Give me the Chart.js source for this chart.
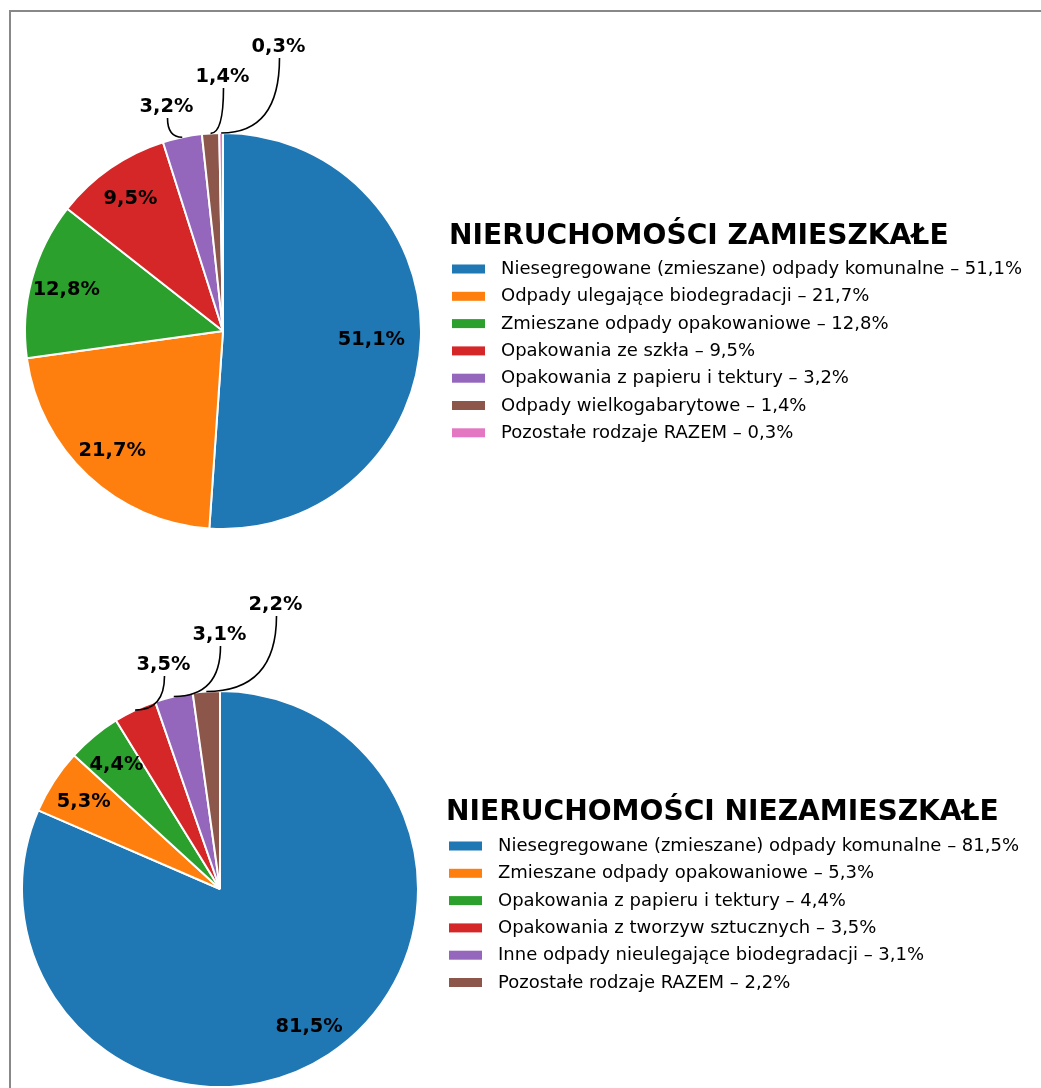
<!DOCTYPE html>
<html><head><meta charset="utf-8">
<script src="https://cdn.jsdelivr.net/npm/chart.js@4.4.1/dist/chart.umd.min.js"></script>
<style>
html,body{margin:0;padding:0;background:#fff;width:1041px;height:1088px;overflow:hidden}
#frame{position:absolute;left:9px;top:10px;width:1100px;height:1200px;border-left:2px solid #888;border-top:2px solid #888;}
canvas{position:absolute;left:0;top:0}
</style></head><body>
<div id="frame"></div>
<canvas id="c1" width="1041" height="1088"></canvas>
<canvas id="c2" width="1041" height="1088"></canvas>
<script>
// ---- data ----
const title1 = 'NIERUCHOMOŚCI ZAMIESZKAŁE';
const categories1 = [
  'Niesegregowane (zmieszane) odpady komunalne',
  'Odpady ulegające biodegradacji',
  'Zmieszane odpady opakowaniowe',
  'Opakowania ze szkła',
  'Opakowania z papieru i tektury',
  'Odpady wielkogabarytowe',
  'Pozostałe rodzaje RAZEM'
];
const values1 = [51.1, 21.7, 12.8, 9.5, 3.2, 1.4, 0.3];

const title2 = 'NIERUCHOMOŚCI NIEZAMIESZKAŁE';
const categories2 = [
  'Niesegregowane (zmieszane) odpady komunalne',
  'Zmieszane odpady opakowaniowe',
  'Opakowania z papieru i tektury',
  'Opakowania z tworzyw sztucznych',
  'Inne odpady nieulegające biodegradacji',
  'Pozostałe rodzaje RAZEM'
];
const values2 = [81.5, 5.3, 4.4, 3.5, 3.1, 2.2];

const palette = ['#1f77b4','#ff7f0e','#2ca02c','#d62728','#9467bd','#8c564b','#e377c2'];

// ---- helpers ----
const FONT = '"DejaVu Sans", "Liberation Sans", sans-serif';
function fmt(v){ return v.toFixed(1).replace('.', ','); }

const piePlugin = {
  id: 'pieDecor',
  afterDatasetsDraw(chart, args, o) {
    const ctx = chart.ctx;
    const meta = chart.getDatasetMeta(0);
    const vals = chart.data.datasets[0].data;
    const labels = chart.data.labels;
    const colors = chart.data.datasets[0].backgroundColor;
    ctx.save();
    // slice labels
    let k = 0;
    const fs = 19.4;
    ctx.font = 'bold ' + fs + 'px ' + FONT;
    ctx.fillStyle = '#000';
    ctx.textAlign = 'center';
    ctx.textBaseline = 'alphabetic';
    meta.data.forEach((arc, i) => {
      const p = arc.getProps(['x','y','startAngle','endAngle','outerRadius'], true);
      const R = p.outerRadius;
      const mid = (p.startAngle + p.endAngle) / 2;
      const v = vals[i];
      const txt = fmt(v) + '%';
      if (v >= o.threshold) {
        const d = (o.innerDist[i] !== undefined ? o.innerDist[i] : 0.82) * R;
        const cx = p.x + Math.cos(mid) * d, cy = p.y + Math.sin(mid) * d;
        ctx.fillText(txt, cx, cy + 0.32 * fs + (o.innerDy[i] || 0));
      } else {
        const ex = p.x + Math.cos(mid) * R, ey = p.y + Math.sin(mid) * R;
        const lx = p.x - 56.5 + k * 56, ly = p.y - 225.5 - k * 30;
        ctx.fillText(txt, lx, ly + 0.34 * fs);
        const sx = lx + 1, sy = ly + 12.5;
        ctx.beginPath();
        ctx.moveTo(sx, sy);
        ctx.quadraticCurveTo(sx, ey, ex, ey);
        ctx.lineWidth = 1.6;
        ctx.strokeStyle = '#000';
        ctx.stroke();
        k++;
      }
    });
    // legend
    const L = o.legend;
    ctx.textAlign = 'left';
    ctx.font = 'bold 28.1px ' + FONT;
    ctx.fillText(L.title, L.x, L.titleBaseline);
    ctx.font = '18px ' + FONT;
    labels.forEach((lab, i) => {
      const cy = L.firstRow + i * 27.3;
      ctx.fillStyle = colors[i];
      ctx.fillRect(L.x + 3, cy - 4.5, 33, 9);
      ctx.fillStyle = '#000';
      ctx.fillText(lab + ' – ' + fmt(vals[i]) + '%', L.x + 52, cy + 5);
    });
    ctx.restore();
  }
};

function makePie(id, cats, vals, title, pad, legendPos, innerDist, innerDy) {
  return new Chart(document.getElementById(id), {
    type: 'pie',
    data: {
      labels: cats,
      datasets: [{
        data: vals,
        backgroundColor: palette.slice(0, vals.length),
        borderColor: '#ffffff',
        borderWidth: 2
      }]
    },
    options: {
      responsive: false,
      animation: false,
      events: [],
      radius: 198,
      layout: { padding: pad },
      plugins: {
        legend: { display: false },
        tooltip: { enabled: false },
        pieDecor: {
          threshold: 4,
          innerDist: innerDist,
          innerDy: innerDy,
          legend: Object.assign({ title: title }, legendPos)
        }
      }
    },
    plugins: [piePlugin]
  });
}

makePie('c1', categories1, values1, title1,
  { left: 0, right: 595, top: 0, bottom: 426 },
  { x: 449, titleBaseline: 243.5, firstRow: 269 },
  [0.75], [3]);
makePie('c2', categories2, values2, title2,
  { left: 0, right: 601, top: 690, bottom: 0 },
  { x: 446, titleBaseline: 820, firstRow: 846 },
  [], [1]);
</script>
</body></html>
